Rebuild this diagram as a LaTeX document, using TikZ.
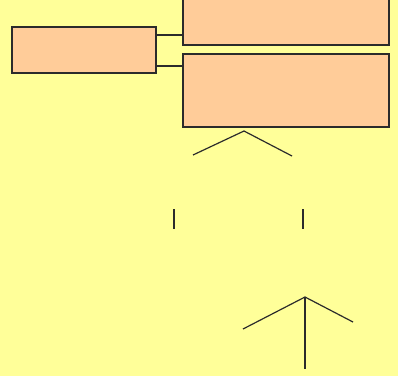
\documentclass[tikz,border=0pt]{standalone}
\usetikzlibrary{positioning}
\definecolor{bgyellow}{HTML}{FFFF99}
\definecolor{boxorange}{HTML}{FFCC99}
\definecolor{inkgray}{HTML}{2B2B2B}
\tikzset{
  orgbox/.style={draw=inkgray, fill=boxorange, line width=1.2pt, shape=rectangle, inner sep=0pt},
  stroke/.style={draw=inkgray, line width=1.2pt}
}
\begin{document}
\begin{tikzpicture}[x=1pt,y=-1pt]
\fill[bgyellow] (0,0) rectangle (398,376);
\useasboundingbox (0,0) rectangle (398,376);
\draw (84, 50) node[orgbox, minimum width=144pt, minimum height=46pt] (lead) {};
\draw (286, 21) node[orgbox, minimum width=206pt, minimum height=48pt] (upper) {};
\draw (286, 90.5) node[orgbox, minimum width=206pt, minimum height=73pt] (lower) {};
\draw[stroke] (lead.east |- 0,35) -- (upper.west |- 0,35);
\draw[stroke] (lead.east |- 0,66) -- (lower.west |- 0,66);
% branches below
\coordinate (top) at (244, 131);
\coordinate (tl) at (193, 155);
\coordinate (tr) at (292, 156);
\draw[stroke] (tl) -- (top) -- (tr);
\coordinate (ma) at (174, 209);
\coordinate (mb) at (174, 229);
\coordinate (mc) at (303, 209);
\coordinate (md) at (303, 229);
\draw[stroke] (ma) -- (mb);
\draw[stroke] (mc) -- (md);
\coordinate (root) at (305, 297);
\coordinate (rl) at (243, 329);
\coordinate (rr) at (353, 322);
\coordinate (rd) at (305, 369);
\draw[stroke] (rl) -- (root) -- (rr);
\draw[stroke] (root) -- (rd);
\end{tikzpicture}
\end{document}
